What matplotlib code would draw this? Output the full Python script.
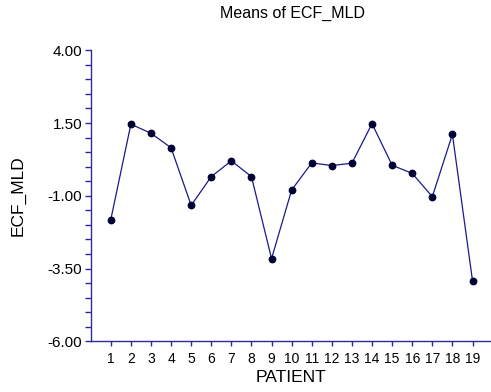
import matplotlib
matplotlib.use("Agg")
import matplotlib.pyplot as plt
from matplotlib.ticker import MultipleLocator

plt.rcParams['font.family'] = ['Liberation Sans', 'DejaVu Sans']

patients = list(range(1, 20))
means = [-1.82, 1.46, 1.15, 0.65, -1.33, -0.34, 0.20, -0.34, -3.16, -0.80,
         0.13, 0.04, 0.12, 1.48, 0.05, -0.23, -1.03, 1.11, -3.92]
yticks = [-6.00, -3.50, -1.00, 1.50, 4.00]
ytick_labels = ["-6.00", "-3.50", "-1.00", "1.50", "4.00"]

axis_color = "#2b2b9a"
line_color = "#1a1a8c"
marker_color = "#000033"

fig = plt.figure(figsize=(4.91, 3.92), dpi=100)
ax = fig.add_axes([0.1847, 0.1293, 0.8153, 0.7424])

ax.plot(patients, means, color=line_color, linewidth=0.9,
        marker='o', markersize=4.6, markerfacecolor=marker_color,
        markeredgecolor=marker_color)

ax.set_xlim(0, 19.92)
ax.set_ylim(-6, 4)
ax.set_xticks(patients)
ax.set_xticklabels([str(p) for p in patients], fontsize=10)
ax.set_yticks(yticks)
ax.set_yticklabels(ytick_labels, fontsize=11)
ax.yaxis.set_minor_locator(MultipleLocator(0.5))

for s in ['top', 'right']:
    ax.spines[s].set_visible(False)
for s in ['left', 'bottom']:
    ax.spines[s].set_color(axis_color)
    ax.spines[s].set_linewidth(1.0)

ax.tick_params(axis='y', which='both', direction='out', length=4, width=1,
               color=axis_color, pad=2)
ax.tick_params(axis='x', which='major', direction='out', length=3.5, width=1,
               color=axis_color, pad=4)

ax.set_xlabel("PATIENT", fontsize=12.5, labelpad=3)
ax.set_ylabel("ECF_MLD", fontsize=12.5, labelpad=16)
fig.text(0.595, 0.965, "Means of ECF_MLD", fontsize=11.5, ha='center', va='center')

fig.savefig("out.png", dpi=100)
